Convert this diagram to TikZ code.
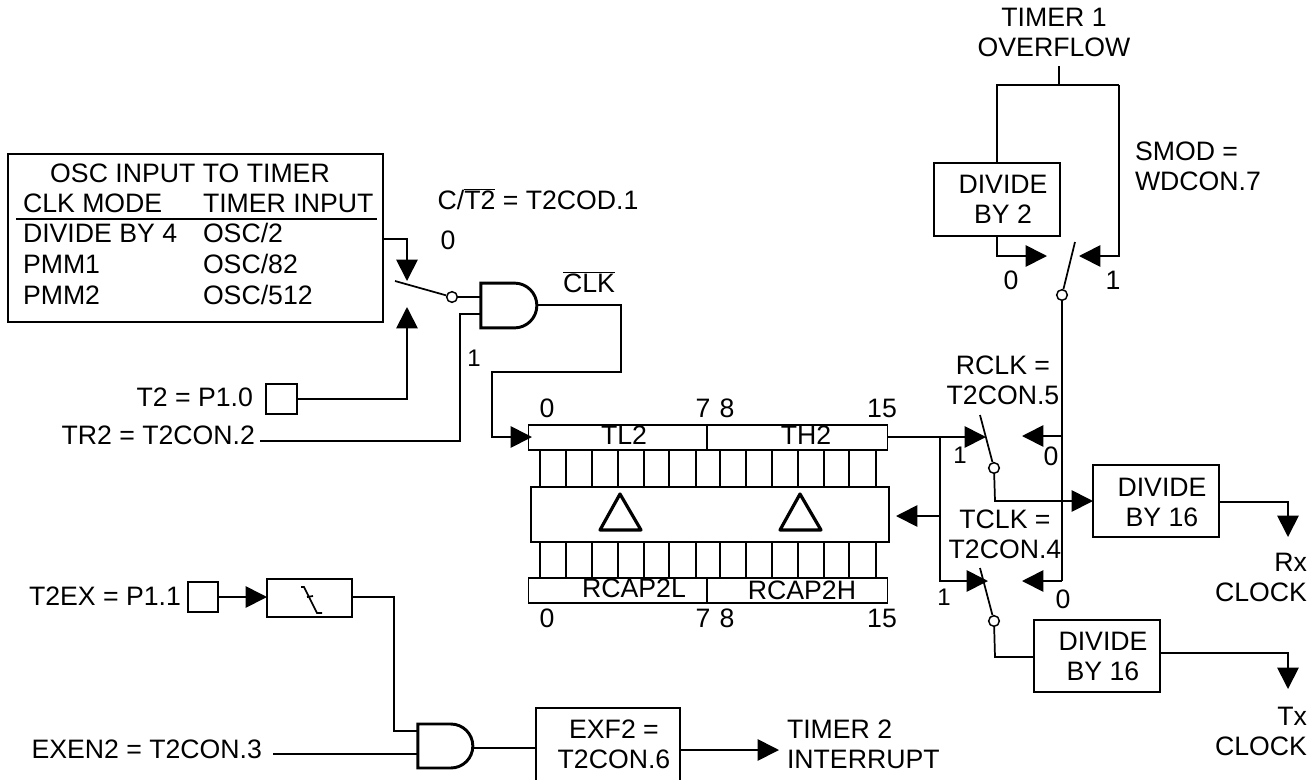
\documentclass[tikz,border=0pt]{standalone}
\usepackage{fontspec}
\setmainfont{Liberation Sans}
\usepackage{tikz}
\usetikzlibrary{arrows.meta}
\usetikzlibrary{calc}
\usetikzlibrary{shapes.gates.logic.US}
\tikzset{
  wire/.style={line width=1.3pt},
  feed/.style={wire,-{Triangle[length=16pt,width=16pt]}},
  box/.style={draw,line width=1.3pt,rectangle,inner sep=0pt,outer sep=0pt},
  pivot/.style={draw,circle,line width=1.1pt,fill=white,inner sep=0pt,minimum size=8pt},
  gate/.style={and gate US,draw,line width=2.2pt,inner sep=0pt,outer sep=0pt,logic gate inputs=nn},
  lab/.style={inner sep=0pt,outer sep=0pt,text height=14.3pt,text depth=0pt},
  small/.style={lab,font=\fontsize{18}{22.5}\selectfont,text height=13pt},
  para/.style={inner sep=0pt,outer sep=0pt,align=center},
  rpara/.style={inner sep=0pt,outer sep=0pt,align=right},
  delta/.style={draw,line width=2.4pt,line join=round,inner sep=0pt}
}
\begin{document}
\begin{tikzpicture}[x=0.75pt,y=-0.75pt,font=\fontsize{20}{22.5}\selectfont]
  \clip (0,0) rectangle (1315,779);
  % oscillator table
  \node[box,minimum width=281pt,minimum height=126pt] (osc) at (195.5,238) {};
  \node[lab] (oschead) at (190,173) {OSC INPUT TO TIMER};
  \node[lab,anchor=west] (clkmode) at (23,203) {CLK MODE};
  \node[lab,anchor=west] (tinput) at (203,203) {TIMER INPUT};
  \node[lab,anchor=west] (divfour) at (23,233) {DIVIDE BY 4};
  \node[lab,anchor=west] (osctwo) at (203,233) {OSC/2};
  \node[lab,anchor=west] (pmmone) at (23,264) {PMM1};
  \node[lab,anchor=west] (osceighty) at (203,264) {OSC/82};
  \node[lab,anchor=west] (pmmtwo) at (23,295) {PMM2};
  \node[lab,anchor=west] (oscfive) at (203,295) {OSC/512};
  \coordinate (rulel) at (16,219);
  \coordinate (ruler) at (377,219);
  \draw[wire] (rulel) -- (ruler);
  \coordinate (oscport) at (383,239);
  \coordinate (oscbend) at (407,239);
  \coordinate (osctip) at (407,281);
  \draw[feed] (oscport) -- (oscbend) -- (osctip);

  % timer input select
  \node[lab] (cmode) at (538,200) {C/$\overline{\mbox{T2}}$ = T2COD.1};
  \node[lab] (selzero) at (448,240) {0};
  \node[small] (selone) at (474,358) {1};
  \node[pivot] (selpivot) at (452,297) {};
  \coordinate (selblade) at (395,281);
  \draw[wire] (selblade) -- (selpivot);
  \node[box,minimum width=23pt,minimum height=22.5pt] (ttwopin) at (281.5,399) {};
  \node[lab,anchor=east] (ttwo) at (253,397) {T2 = P1.0};
  \coordinate (ttwotip) at (407,307);
  \draw[feed] (ttwopin.east) -| (ttwotip);
  \node[lab,anchor=east] (trtwo) at (255,435) {TR2 = T2CON.2};
  \coordinate (trstart) at (260,441);
  \node[gate,minimum width=42pt,minimum height=32pt] (clkgate) at (507,305.5) {};
  \coordinate (clkina) at (481,297);
  \coordinate (clkinb) at (481,314);
  \draw[wire] (selpivot) -- (clkina);
  \coordinate (trbend) at (460,441);
  \draw[wire] (trstart) -- (trbend) |- (clkinb);
  \node[lab] (clkbar) at (589,283) {$\overline{\mbox{CLK}}$};
  \coordinate (clkright) at (621,305);
  \coordinate (clkdown) at (621,372);
  \coordinate (clkleft) at (492,372);
  \coordinate (clkin) at (492,437);
  \coordinate (clktip) at (532,437);
  \draw[feed] (clkgate.east |- clkright) -- (clkright) -- (clkdown) -- (clkleft) -- (clkin) -- (clktip);

  % timer and capture registers
  \node[box,minimum width=134pt,minimum height=18.75pt] (tltwo) at (617.75,437.5) {};
  \node[box,minimum width=135pt,minimum height=18.75pt] (thtwo) at (797.5,437.5) {};
  \node[box,minimum width=134pt,minimum height=18.75pt] (rcapl) at (617.75,590.5) {};
  \node[box,minimum width=135pt,minimum height=18.75pt] (rcaph) at (797.5,590.5) {};
  \node[box,minimum width=268pt,minimum height=41.25pt] (transfer) at (710,514.5) {};
  \node[lab] (tltxt) at (624,435) {TL2};
  \node[lab] (thtxt) at (806,435) {TH2};
  \node[lab] (rcapltxt) at (634,588) {RCAP2L};
  \node[lab] (rcaphtxt) at (802,590) {RCAP2H};
  \foreach \x in {540,566,592,618,644,669,696,720,746,772,798,824,849,876} {
    \draw[wire] (\x,450) -- (\x,487);
    \draw[wire] (\x,542) -- (\x,578);
  }
  \foreach \y/\n in {408/top,618/bot} {
    \node[lab] (zero\n) at (547,\y) {0};
    \node[lab] (seven\n) at (703,\y) {7};
    \node[lab] (eight\n) at (727,\y) {8};
    \node[lab] (fifteen\n) at (882,\y) {15};
  }
  \coordinate (dlapex) at (620,494);
  \coordinate (dlleft) at (600,530);
  \coordinate (dlright) at (641,530);
  \coordinate (dhapex) at (800,494);
  \coordinate (dhleft) at (780,530);
  \coordinate (dhright) at (821,530);
  \draw[delta] (dlapex) -- (dlleft) -- (dlright) -- cycle;
  \draw[delta] (dhapex) -- (dhleft) -- (dhright) -- cycle;

  % overflow and baud select
  \node[para] (overflow) at (1054,32.5) {TIMER 1\\OVERFLOW};
  \coordinate (ovfl) at (1059,66);
  \coordinate (ovjoin) at (1059,85);
  \coordinate (ovleft) at (997,85);
  \coordinate (ovright) at (1119,85);
  \draw[wire] (ovfl) -- (ovjoin);
  \node[box,minimum width=94.5pt,minimum height=54.75pt] (divtwo) at (997,199.5) {};
  \node[para] (divtwotxt) at (1003,199) {DIVIDE\\BY 2};
  \draw[wire] (divtwo.north) -- (ovleft) -- (ovright);
  \node[para,anchor=west,align=left] (smod) at (1135,166.5) {SMOD =\\WDCON.7};
  \coordinate (divtwotip) at (1047,256);
  \coordinate (divtwobend) at (997,256);
  \draw[feed] (divtwo.south) -- (divtwobend) -- (divtwotip);
  \coordinate (smodtip) at (1079,256);
  \coordinate (smodbend) at (1119,256);
  \draw[feed] (ovright) -- (smodbend) -- (smodtip);
  \node[pivot] (smodpivot) at (1062,295) {};
  \coordinate (smodblade) at (1075,242);
  \draw[wire] (smodblade) -- (smodpivot);
  \node[lab] (smodzero) at (1011,280) {0};
  \node[lab] (smodone) at (1113,280) {1};

  % receive clock
  \node[para] (rclk) at (1003,380) {RCLK =\\T2CON.5};
  \coordinate (rxtip) at (986,437);
  \coordinate (thport) at (thtwo.east |- rxtip);
  \coordinate (rxjoin) at (940,437);
  \draw[feed] (thport) -- (rxtip);
  \coordinate (rxzerotip) at (1022,436);
  \coordinate (rxzero) at (1062,436);
  \coordinate (txzero) at (1062,581);
  \draw[feed] (rxzero) -- (rxzerotip);
  \draw[wire] (smodpivot) -- (txzero);
  \node[small] (rxone) at (960,455) {1};
  \node[lab] (rxzerotxt) at (1051,456) {0};
  \node[pivot] (rxpivot) at (994,468) {};
  \coordinate (rxblade) at (980,415);
  \draw[wire] (rxblade) -- (rxpivot);
  \node[box,minimum width=94.5pt,minimum height=54pt] (divrx) at (1156,501) {};
  \node[para] (divrxtxt) at (1162,502) {DIVIDE\\BY 16};
  \coordinate (rxbend) at (995,501);
  \coordinate (rxin) at (1093,501);
  \draw[feed] (rxpivot) -- (rxbend) -- (rxin);
  \coordinate (rxout) at (1288,502);
  \coordinate (rxouttip) at (1288,537);
  \draw[feed] (divrx.east |- rxout) -- (rxout) -- (rxouttip);
  \node[rpara,anchor=east] (rxclock) at (1307,577) {Rx\\CLOCK};

  % reload path and transmit clock
  \coordinate (reloadjoin) at (940,516);
  \coordinate (reloadtip) at (896,516);
  \draw[feed] (reloadjoin) -- (reloadtip);
  \coordinate (txbend) at (940,581);
  \coordinate (txtip) at (988,581);
  \draw[feed] (rxjoin) -- (txbend) -- (txtip);
  \coordinate (txzerotip) at (1022,581);
  \draw[feed] (txzero) -- (txzerotip);
  \node[para] (tclk) at (1005,534.5) {TCLK =\\T2CON.4};
  \node[small] (txone) at (944,597) {1};
  \node[lab] (txzerotxt) at (1063,599) {0};
  \node[pivot] (txpivot) at (994,621) {};
  \coordinate (txblade) at (980,568);
  \draw[wire] (txblade) -- (txpivot);
  \node[box,minimum width=94.5pt,minimum height=54pt] (divtx) at (1097,656) {};
  \node[para] (divtxtxt) at (1103,656.5) {DIVIDE\\BY 16};
  \coordinate (txwire) at (995,657);
  \draw[wire] (txpivot) -- (txwire) -- (divtx.west |- txwire);
  \coordinate (txout) at (1288,653);
  \coordinate (txouttip) at (1288,689);
  \draw[feed] (divtx.east |- txout) -- (txout) -- (txouttip);
  \node[rpara,anchor=east] (txclock) at (1307,731.5) {Tx\\CLOCK};

  % external flag
  \node[lab,anchor=east] (ttwoex) at (181,596) {T2EX = P1.1};
  \node[box,minimum width=22.5pt,minimum height=22.5pt] (expin) at (203,597) {};
  \node[box,minimum width=63.75pt,minimum height=28.5pt] (edge) at (309.5,598) {};
  \coordinate (edgetip) at (edge.west |- expin);
  \draw[feed] (expin.east) -- (edgetip);
  \coordinate (edgea) at (301,587);
  \coordinate (edgeb) at (304,587);
  \coordinate (edgec) at (317,613);
  \coordinate (edged) at (322,613);
  \coordinate (edgee) at (307,597);
  \coordinate (edgef) at (313,596);
  \draw[wire] (edgea) -- (edgeb) -- (edgec) -- (edged);
  \draw[wire] (edgee) -- (edgef);
  \node[lab,anchor=east] (exen) at (262,749) {EXEN2 = T2CON.3};
  \node[gate,minimum width=40pt,minimum height=33pt] (exgate) at (443.5,746) {};
  \coordinate (exina) at (418,731);
  \coordinate (exinb) at (418,754);
  \coordinate (exstart) at (273,754);
  \coordinate (exbend) at (394,597);
  \draw[wire] (edge.east |- exbend) -- (exbend) |- (exina);
  \draw[wire] (exstart) -- (exinb);
  \node[box,minimum width=108pt,minimum height=72pt] (exf) at (608,756) {};
  \node[para] (exftxt) at (614,744.5) {EXF2 =\\T2CON.6};
  \coordinate (exout) at (472,748);
  \draw[wire] (exout) -- (exf.west |- exout);
  \coordinate (inttip) at (779,750);
  \draw[feed] (exf.east |- inttip) -- (inttip);
  \node[para,anchor=west,align=left] (timertwo) at (787,744.5) {TIMER 2\\INTERRUPT};
\end{tikzpicture}
\end{document}
